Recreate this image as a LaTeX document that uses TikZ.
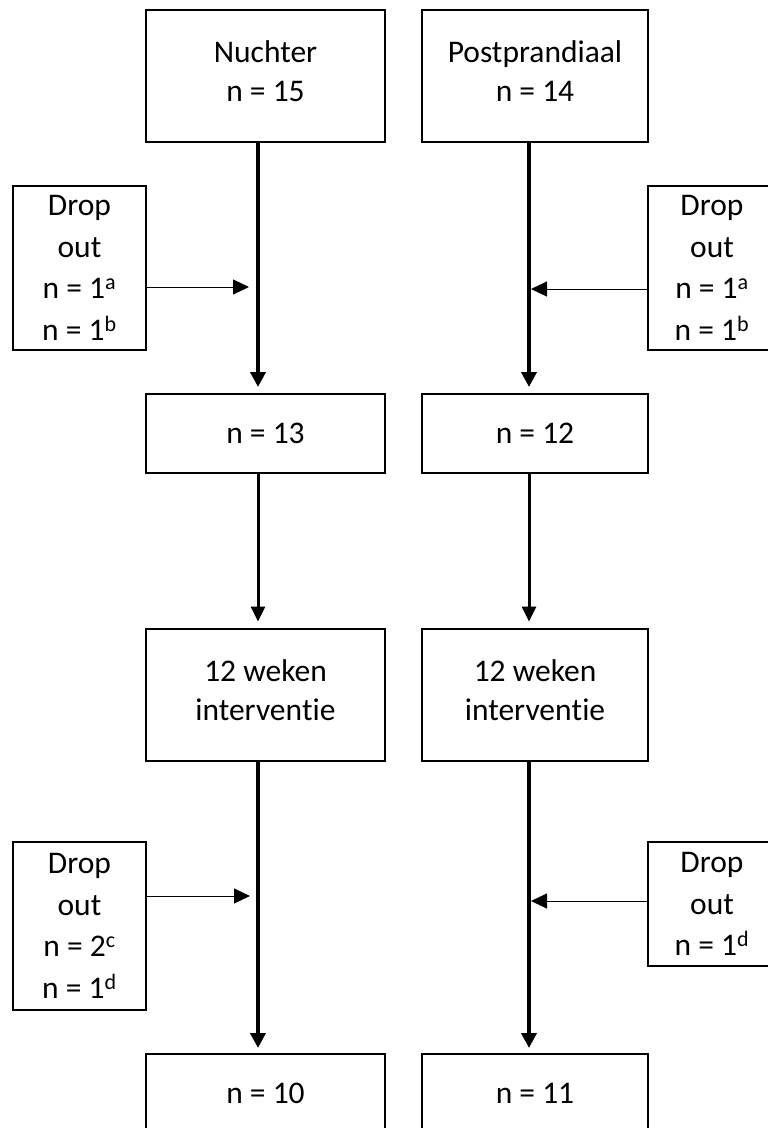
\documentclass[tikz,border=0pt]{standalone}
\usepackage{fontspec}
\setmainfont{Carlito}[Ligatures={NoCommon}]
\usetikzlibrary{arrows.meta}
\newcommand{\intv}{interven\kern0pt t\kern0pt ie}
\tikzset{
  box/.style={draw=black, line width=2pt, rectangle, align=center, inner sep=0pt,
    font=\fontsize{31.5}{39}\selectfont},
  bigbox/.style={box, minimum width=239pt, minimum height=132pt, text depth=9pt},
  bigboxr/.style={box, minimum width=226pt, minimum height=132pt, text depth=9pt},
  smallbox/.style={box, minimum width=239pt, minimum height=79pt},
  smallboxr/.style={box, minimum width=226pt, minimum height=79pt},
  dropbox/.style={box, minimum width=133pt, font=\fontsize{31.5}{41.5}\selectfont},
  dropboxr/.style={box, minimum width=128pt, font=\fontsize{31.5}{41.5}\selectfont},
  thickarrow/.style={line width=4pt, -{Triangle[length=15pt,width=15pt]}},
  midarrow/.style={line width=3pt, -{Triangle[length=15pt,width=14pt]}},
  thinarrow/.style={line width=1pt, -{Triangle[length=16pt,width=15pt]}},
}
\begin{document}
\begin{tikzpicture}[x=1pt,y=-1pt]
\useasboundingbox (0,0) rectangle (768,1128);
\clip (0,0) rectangle (768,1128);
% columns
\coordinate (L) at (258,0);
\coordinate (R) at (529,0);
% top boxes
\node[bigbox]  (nuchter) at (265.5,76) {Nuchter\\n = 15};
\node[bigboxr] (post)    at (535,76)   {Postprandiaal\\n = 14};
% first drop-out boxes
\node[dropbox,  minimum height=164pt] (dropL1) at (79.5,268) {Drop\\out\\n = 1\textsuperscript{a}\\n = 1\textsuperscript{b}};
\node[dropboxr, minimum height=164pt] (dropR1) at (712,268)  {Drop\\out\\n = 1\textsuperscript{a}\\n = 1\textsuperscript{b}};
% n = 13 / 12
\node[smallbox]  (n13) at (265.5,433.5) {n = 13};
\node[smallboxr] (n12) at (535,433.5)   {n = 12};
% 12 weken
\node[bigbox]  (wL) at (265.5,694.5) {12 weken\\\intv};
\node[bigboxr] (wR) at (535,694.5)   {12 weken\\\intv};
% second drop-out boxes
\node[dropbox,  minimum height=168pt] (dropL2) at (79.5,926) {Drop\\out\\n = 2\textsuperscript{c}\\n = 1\textsuperscript{d}};
\node[dropboxr, minimum height=124pt] (dropR2) at (712,904)  {Drop\\out\\n = 1\textsuperscript{d}};
% final boxes
\node[smallbox]  (n10) at (265.5,1093.5) {n = 10};
\node[smallboxr] (n11) at (535,1093.5)   {n = 11};
% vertical arrows
\draw[thickarrow, shorten >=6pt] (nuchter.south -| L) -- (n13.north -| L);
\draw[thickarrow, shorten >=6pt] (post.south -| R) -- (n12.north -| R);
\draw[midarrow, shorten >=6pt] (n13.south -| L) -- (wL.north -| L);
\draw[midarrow, shorten >=6pt] (n12.south -| R) -- (wR.north -| R);
\draw[thickarrow, shorten >=5pt] (wL.south -| L) -- (n10.north -| L);
\draw[thickarrow, shorten >=5pt] (wR.south -| R) -- (n11.north -| R);
% horizontal arrows
\coordinate (aL1) at (249,287);
\coordinate (aR1) at (531,289);
\coordinate (aL2) at (250,896);
\coordinate (aR2) at (531,901);
\draw[thinarrow] (dropL1.east |- aL1) -- (aL1);
\draw[thinarrow] (dropR1.west |- aR1) -- (aR1);
\draw[thinarrow] (dropL2.east |- aL2) -- (aL2);
\draw[thinarrow] (dropR2.west |- aR2) -- (aR2);
\end{tikzpicture}
\end{document}
